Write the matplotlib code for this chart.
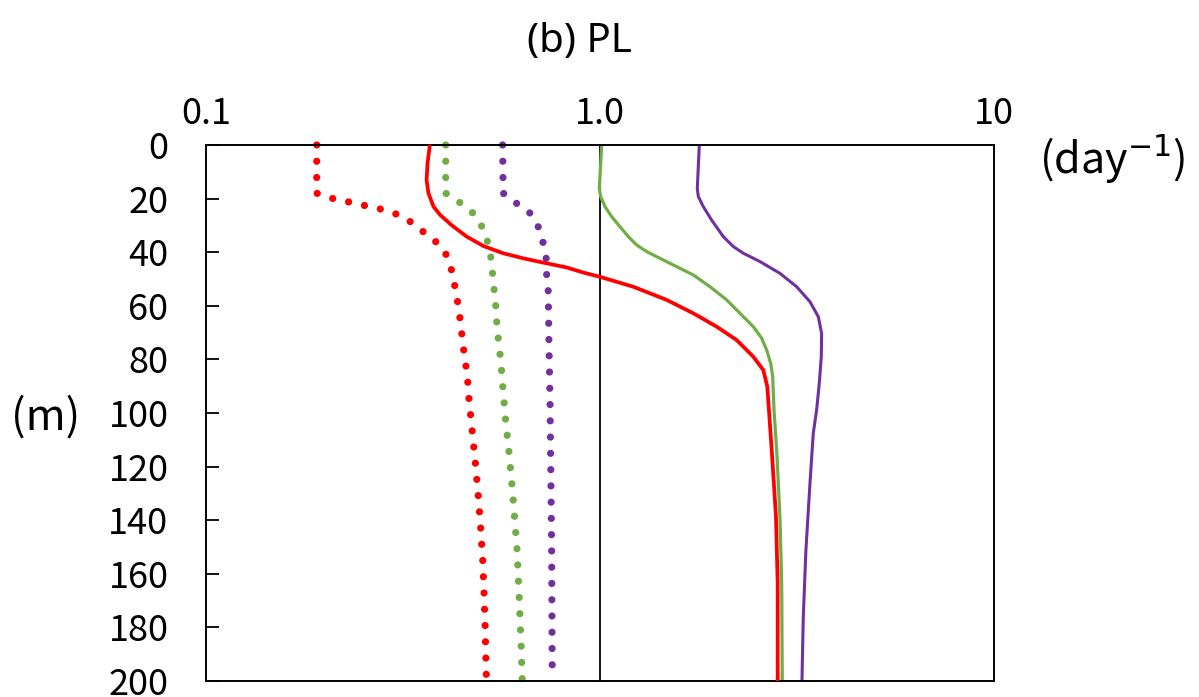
import matplotlib
matplotlib.use("Agg")
import matplotlib.pyplot as plt
from matplotlib.ticker import NullLocator

plt.rcParams["font.family"] = ["Noto Sans CJK JP", "DejaVu Sans"]
plt.rcParams["lines.scale_dashes"] = False

# depth (m) and rate (day^-1)
red_solid_depth = [0, 6.8, 13.1, 18.0, 23.0, 26.1, 29.9, 34.2, 37.7, 40.4, 42.3, 43.9, 45.7, 47.6, 49.2,
                   52.9, 57.8, 62.8, 67.8, 72.8, 79.0, 84.0, 90.2, 113.8, 138.7, 163.6, 200]
red_solid_val = [0.370, 0.365, 0.363, 0.367, 0.378, 0.393, 0.420, 0.459, 0.506, 0.568, 0.639, 0.718, 0.823,
                 0.907, 1.0, 1.215, 1.476, 1.725, 1.978, 2.223, 2.450, 2.598, 2.659, 2.728, 2.797, 2.825, 2.825]

green_solid_depth = [0, 16.2, 19.3, 23.0, 26.7, 30.5, 34.2, 37.3, 39.8, 42.3, 45.4, 48.5, 52.9, 57.8, 62.8,
                     67.8, 72.1, 76.5, 81.5, 86.4, 98.9, 114, 139, 164, 200]
green_solid_val = [1.010, 0.996, 1.004, 1.030, 1.070, 1.124, 1.180, 1.239, 1.314, 1.420, 1.565, 1.725, 1.902,
                   2.097, 2.266, 2.450, 2.573, 2.649, 2.712, 2.744, 2.765, 2.809, 2.863, 2.892, 2.902]

purple_solid_depth = [0, 16.2, 19.3, 23.0, 28.0, 34.2, 37.9, 40.4, 43.5, 47.9, 52.9, 58.5, 64.1, 70.3, 79.0,
                      88.9, 98.9, 107.6, 126.2, 151.1, 176.0, 200]
purple_solid_val = [1.787, 1.766, 1.777, 1.829, 1.920, 2.056, 2.180, 2.311, 2.547, 2.863, 3.157, 3.412, 3.583,
                    3.652, 3.645, 3.603, 3.547, 3.478, 3.412, 3.332, 3.281, 3.256]

red_dot_depth = [0, 18, 20, 21.3, 23.9, 25.7, 28.7, 32.4, 36.1, 40.9, 46.7, 52.6, 58.4, 64.5, 70.5, 76.6,
                 82.6, 88.7, 94.8, 106.9, 119, 131, 143, 155, 167.5, 179.7, 200]
red_dot_val = [0.191, 0.191, 0.210, 0.231, 0.277, 0.303, 0.331, 0.356, 0.383, 0.407, 0.420, 0.428, 0.435,
               0.441, 0.446, 0.451, 0.457, 0.462, 0.465, 0.474, 0.483, 0.491, 0.498, 0.504, 0.508, 0.511, 0.515]

green_dot_depth = [0, 18, 21.7, 25.4, 30.5, 36.3, 42.3, 48.3, 54.4, 60.4, 66.4, 72.4, 78.5, 84.6, 90.6,
                   102.8, 115, 127, 139, 151, 169.3, 187.5, 200]
green_dot_val = [0.406, 0.406, 0.443, 0.476, 0.502, 0.519, 0.529, 0.534, 0.539, 0.544, 0.547, 0.552, 0.558,
                 0.563, 0.567, 0.576, 0.588, 0.598, 0.607, 0.616, 0.624, 0.631, 0.635]

purple_dot_depth = [0, 18, 22, 25.4, 30.5, 36.7, 42.2, 48.2, 54.5, 72.8, 97, 127.4, 151.7, 188.4, 200]
purple_dot_val = [0.566, 0.568, 0.617, 0.664, 0.697, 0.718, 0.730, 0.732, 0.739, 0.742, 0.747, 0.751,
                  0.754, 0.756, 0.757]

x_ticks = [0.1, 1.0, 10]
x_tick_labels = ["0.1", "1.0", "10"]
y_ticks = list(range(0, 201, 20))

RED = "#FF0000"
GREEN = "#70AD47"
PURPLE = "#7030A0"

fig = plt.figure(figsize=(11.99, 6.97), dpi=100)
ax = fig.add_axes([0.1718, 0.023, 0.6572, 0.769])

# reference line at 1.0
ax.axvline(1.0, color="black", lw=1.3, zorder=1)

solid_style = dict(solid_joinstyle="round", solid_capstyle="butt", clip_on=False)
ax.plot(red_solid_val, red_solid_depth, color=RED, lw=2.7, zorder=3, **solid_style)
ax.plot(green_solid_val, green_solid_depth, color=GREEN, lw=2.3, zorder=2, **solid_style)
ax.plot(purple_solid_val, purple_solid_depth, color=PURPLE, lw=2.2, zorder=2, **solid_style)

dot_style = dict(lw=5.2, dashes=(0.01, 11.7), dash_capstyle="round", clip_on=False, zorder=2)
ax.plot(red_dot_val, red_dot_depth, color=RED, **dot_style)
ax.plot(green_dot_val, green_dot_depth, color=GREEN, **dot_style)
ax.plot(purple_dot_val, purple_dot_depth, color=PURPLE, **dot_style)

ax.set_xscale("log")
ax.set_xlim(0.1, 10)
ax.set_ylim(200, 0)

ax.xaxis.tick_top()
ax.set_xticks(x_ticks)
ax.set_xticklabels(x_tick_labels)
ax.xaxis.set_minor_locator(NullLocator())
ax.tick_params(axis="x", length=0, pad=9, labelsize=26)

ax.set_yticks(y_ticks)
ax.tick_params(axis="y", direction="in", length=9, width=1.3, pad=27, labelsize=26)

for sp in ax.spines.values():
    sp.set_linewidth(1.4)

fig.text(579 / 1199, 1 - 42 / 697, "(b) PL", ha="center", va="center", fontsize=29, family="Noto Sans")
fig.text(1112 / 1199, 1 - 160 / 697, "(day$^{-1}$)", ha="center", va="center", fontsize=31)
fig.text(46 / 1199, 1 - 418 / 697, "(m)", ha="center", va="center", fontsize=31)

fig.savefig("out.png", dpi=100)
